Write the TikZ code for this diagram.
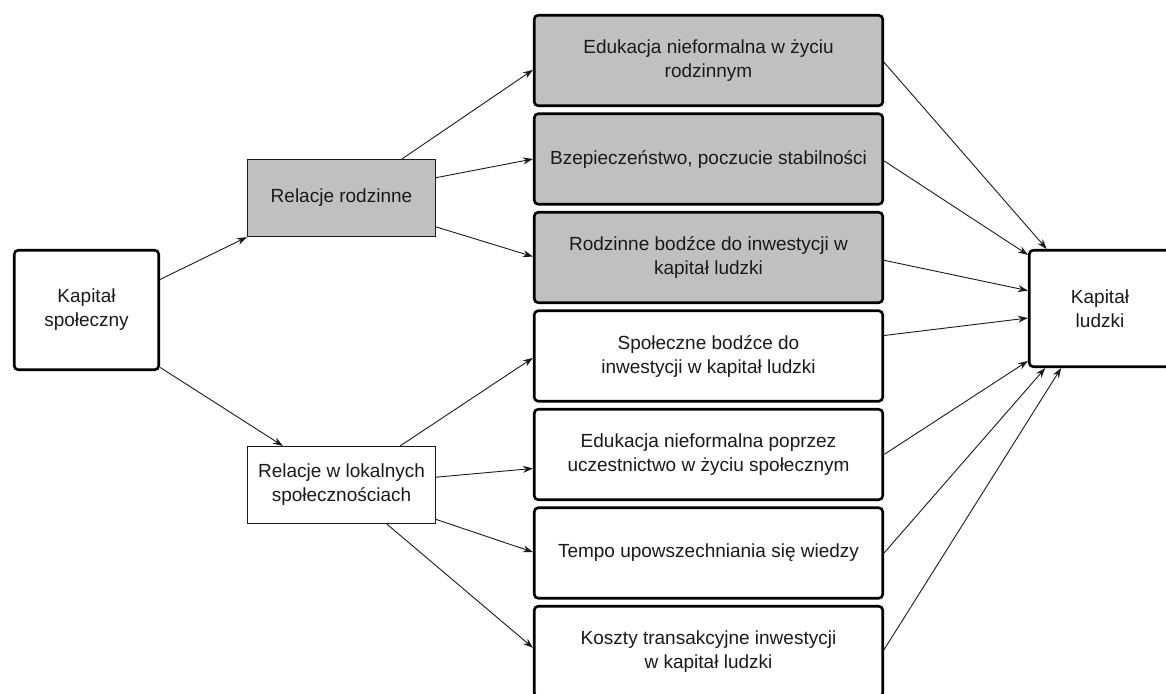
\documentclass[tikz,border=0pt]{standalone}
\usepackage{fontspec}
\setmainfont{Liberation Sans}
\usetikzlibrary{arrows.meta,calc}
\definecolor{boxgray}{HTML}{C0C0C0}
\definecolor{inkline}{HTML}{1A1A1A}

\begin{document}
\begin{tikzpicture}[x=1pt,y=-1pt,
  every node/.style={font=\fontsize{19}{24}\selectfont, align=center, inner sep=0pt, text=inkline},
  thickbox/.style={draw=black, line width=2.6pt, rounded corners=4pt, fill=white},
  thinbox/.style={draw=inkline, line width=1.2pt, fill=white},
  midbox/.style={thickbox, minimum width=348.5pt, minimum height=90.5pt},
  link/.style={-{Stealth[length=10pt,width=7pt]}, line width=0.9pt, draw=inkline}]

\useasboundingbox (0,0) rectangle (1166,693);

% source and target
\node[thickbox, minimum width=144.5pt, minimum height=119.5pt] (ks) at (86.5,310) {Kapitał\\społeczny};
\node[thickbox, minimum width=141.5pt, minimum height=116.5pt] (kl) at (1100,308.5) {Kapitał\\ludzki};

% intermediate relations
\node[thinbox, fill=boxgray, minimum width=188pt, minimum height=77pt] (rr) at (341.5,198) {Relacje rodzinne};
\node[thinbox, minimum width=188pt, minimum height=77pt] (rl) at (341.5,485) {Relacje w lokalnych\\społecznościach};

% channels
\node[midbox, fill=boxgray] (b1) at (708.5,60.5) {Edukacja nieformalna w życiu\\rodzinnym};
\node[midbox, fill=boxgray] (b2) at (708.5,159) {Bzepieczeństwo, poczucie stabilności};
\node[midbox, fill=boxgray] (b3) at (708.5,257.5) {Rodzinne bodźce do inwestycji w\\kapitał ludzki};
\node[midbox] (b4) at (708.5,356) {Społeczne bodźce do\\inwestycji w kapitał ludzki};
\node[midbox] (b5) at (708.5,454.5) {Edukacja nieformalna poprzez\\uczestnictwo w życiu społecznym};
\node[midbox] (b6) at (708.5,553) {Tempo upowszechniania się wiedzy};
\node[midbox] (b7) at (708.5,651.5) {Koszty transakcyjne inwestycji\\w kapitał ludzki};

% social capital to relations
\draw[link] ($(ks.north east)!0.25!(ks.south east)$) -- (rr.south west);
\draw[link] ($(ks.north east)!0.97!(ks.south east)$) -- ($(rl.north west)!0.19!(rl.north east)$);

% family relations to channels
\draw[link] ($(rr.north west)!0.82!(rr.north east)$) -- ($(b1.north west)!0.6!(b1.south west)$);
\draw[link] ($(rr.north east)!0.24!(rr.south east)$) -- (b2.west);
\draw[link] ($(rr.north east)!0.87!(rr.south east)$) -- ($(b3.north west)!0.49!(b3.south west)$);

% local community relations to channels
\draw[link] ($(rl.north west)!0.81!(rl.north east)$) -- ($(b4.north west)!0.52!(b4.south west)$);
\draw[link] ($(rl.north east)!0.4!(rl.south east)$) -- ($(b5.north west)!0.65!(b5.south west)$);
\draw[link] ($(rl.north east)!0.94!(rl.south east)$) -- ($(b6.north west)!0.49!(b6.south west)$);
\draw[link] ($(rl.south west)!0.74!(rl.south east)$) -- ($(b7.north west)!0.46!(b7.south west)$);

% channels to human capital
\draw[link] ($(b1.north east)!0.52!(b1.south east)$) -- ($(kl.north west)!0.13!(kl.north east)$);
\draw[link] ($(b2.north east)!0.52!(b2.south east)$) -- ($(kl.north west)!0.05!(kl.south west)$);
\draw[link] ($(b3.north east)!0.53!(b3.south east)$) -- ($(kl.north west)!0.35!(kl.south west)$);
\draw[link] ($(b4.north east)!0.28!(b4.south east)$) -- ($(kl.north west)!0.58!(kl.south west)$);
\draw[link] ($(b5.north east)!0.5!(b5.south east)$) -- ($(kl.north west)!0.94!(kl.south west)$);
\draw[link] ($(b6.north east)!0.5!(b6.south east)$) -- ($(kl.south west)!0.12!(kl.south east)$);
\draw[link] ($(b7.north east)!0.48!(b7.south east)$) -- ($(kl.south west)!0.23!(kl.south east)$);
\end{tikzpicture}
\end{document}
